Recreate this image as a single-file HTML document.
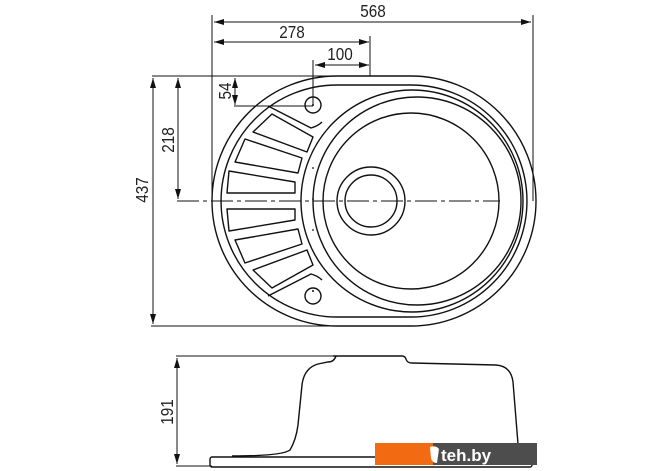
<!DOCTYPE html>
<html><head><meta charset="utf-8"><style>html,body{margin:0;padding:0;background:#fff}svg{display:block}</style></head>
<body>
<svg width="670" height="471" viewBox="0 0 670 471" xmlns="http://www.w3.org/2000/svg">
<defs>
<marker id="a" viewBox="0 0 10 6" refX="10" refY="3" markerWidth="10" markerHeight="6" orient="auto-start-reverse" markerUnits="userSpaceOnUse"><path d="M0,0 L10,3 L0,6 z" fill="#111"/></marker>
</defs>
<g fill="none" stroke="#111" stroke-width="1.4">
<line x1="212" y1="15" x2="212" y2="201" stroke-width="1"/>
<line x1="533" y1="15" x2="533" y2="201" stroke-width="1"/>
<line x1="214" y1="22" x2="531" y2="22" stroke-width="1" marker-start="url(#a)" marker-end="url(#a)"/>
<line x1="370" y1="36" x2="370" y2="76" stroke-width="1"/>
<line x1="214" y1="42" x2="369" y2="42" stroke-width="1" marker-start="url(#a)" marker-end="url(#a)"/>
<line x1="313" y1="60" x2="313" y2="105" stroke-width="1"/>
<line x1="315" y1="65" x2="369" y2="65" stroke-width="1" marker-start="url(#a)" marker-end="url(#a)"/>
<line x1="152" y1="76" x2="345" y2="76" stroke-width="1"/>
<line x1="235" y1="78" x2="235" y2="105" stroke-width="1" marker-start="url(#a)" marker-end="url(#a)"/>
<line x1="234" y1="106" x2="313" y2="106" stroke-width="1"/>
<line x1="153" y1="78" x2="153" y2="324" stroke-width="1" marker-start="url(#a)" marker-end="url(#a)"/>
<line x1="178" y1="78" x2="178" y2="199" stroke-width="1" marker-start="url(#a)" marker-end="url(#a)"/>
<line x1="151" y1="326" x2="330" y2="326" stroke-width="1"/>
<line x1="177" y1="201" x2="500" y2="201" stroke-width="1" stroke-dasharray="22,4,4,4"/>
<path d="M337,76 L411,76 A125,125 0 0 1 411,326 L337,326 A125,125 0 0 1 337,76 Z"/>
<path d="M337,85 L411,85 A116,116 0 0 1 411,317 L337,317 A116,116 0 0 1 337,85 Z"/>
<circle cx="412" cy="201" r="111"/>
<circle cx="417" cy="201" r="104"/>
<circle cx="411" cy="201" r="88"/>
<circle cx="371" cy="201" r="34"/>
<circle cx="371" cy="201" r="26"/>
<path d="M268,106 L311,128 Q318,126 322,122"/>
<path d="M268,296 L311,274 Q318,276 322,280"/>
<circle cx="313" cy="105" r="8"/>
<circle cx="313" cy="296" r="8"/>
<g stroke-linejoin="round">
<path d="M253,132 L272,114 L313,137 L307,152 Z"/>
<path d="M235,162 L245,139 L302,158 L298,173 Z"/>
<path d="M227,193 L229,171 L295,182 L295,193 Z"/>
<path d="M227,209 L229,231 L295,220 L295,209 Z"/>
<path d="M235,240 L245,263 L302,244 L298,229 Z"/>
<path d="M253,270 L272,288 L313,265 L307,250 Z"/>
</g>
<line x1="176" y1="356" x2="333" y2="356" stroke-width="1"/>
<line x1="176" y1="466" x2="212" y2="466" stroke-width="1"/>
<line x1="177" y1="358" x2="177" y2="464" stroke-width="1" marker-start="url(#a)" marker-end="url(#a)"/>
<path d="M333,356 L402,356 Q405,356 406,359 Q407,363 412,363 L496,365 Q511,366 513,382 L518,444"/>
<path d="M336,356 Q334,362 328,362 L318,364 Q304,368 302,385 L298,425 Q296,440 290,450 Q282,456 232,456"/>
<rect x="210" y="457" width="322" height="10" rx="2"/>
</g>
<g fill="#111">
<circle cx="313" cy="105" r="1"/><circle cx="313" cy="291" r="1"/>
<circle cx="313" cy="168" r="0.9"/><circle cx="313" cy="199" r="0.9"/><circle cx="313" cy="230" r="0.9"/>
</g>
<g font-family="'Liberation Sans',sans-serif" font-size="18" fill="#222">
<text x="373" y="17" text-anchor="middle" transform="translate(373,0) scale(0.85,1) translate(-373,0)">568</text>
<text x="292" y="38" text-anchor="middle" transform="translate(292,0) scale(0.85,1) translate(-292,0)">278</text>
<text x="340" y="60" text-anchor="middle" transform="translate(340,0) scale(0.85,1) translate(-340,0)">100</text>
<text transform="translate(231,91) rotate(-90) scale(0.85,1)" text-anchor="middle">54</text>
<text transform="translate(174,140) rotate(-90) scale(0.85,1)" text-anchor="middle">218</text>
<text transform="translate(148,190) rotate(-90) scale(0.85,1)" text-anchor="middle">437</text>
<text transform="translate(173,412) rotate(-90) scale(0.85,1)" text-anchor="middle">191</text>
</g>
<rect x="375" y="443" width="58" height="22" fill="#f26b12"/>
<rect x="433" y="443" width="104" height="22" fill="#4d4d4d"/>
<path d="M430,447 Q436,445 439,449 L437,463 Q432,463 431,458 Z" fill="#fff"/>
<text x="441" y="461" font-family="'Liberation Sans',sans-serif" font-size="17" font-weight="bold" fill="#fff">teh.by</text>
</svg>
</body></html>
